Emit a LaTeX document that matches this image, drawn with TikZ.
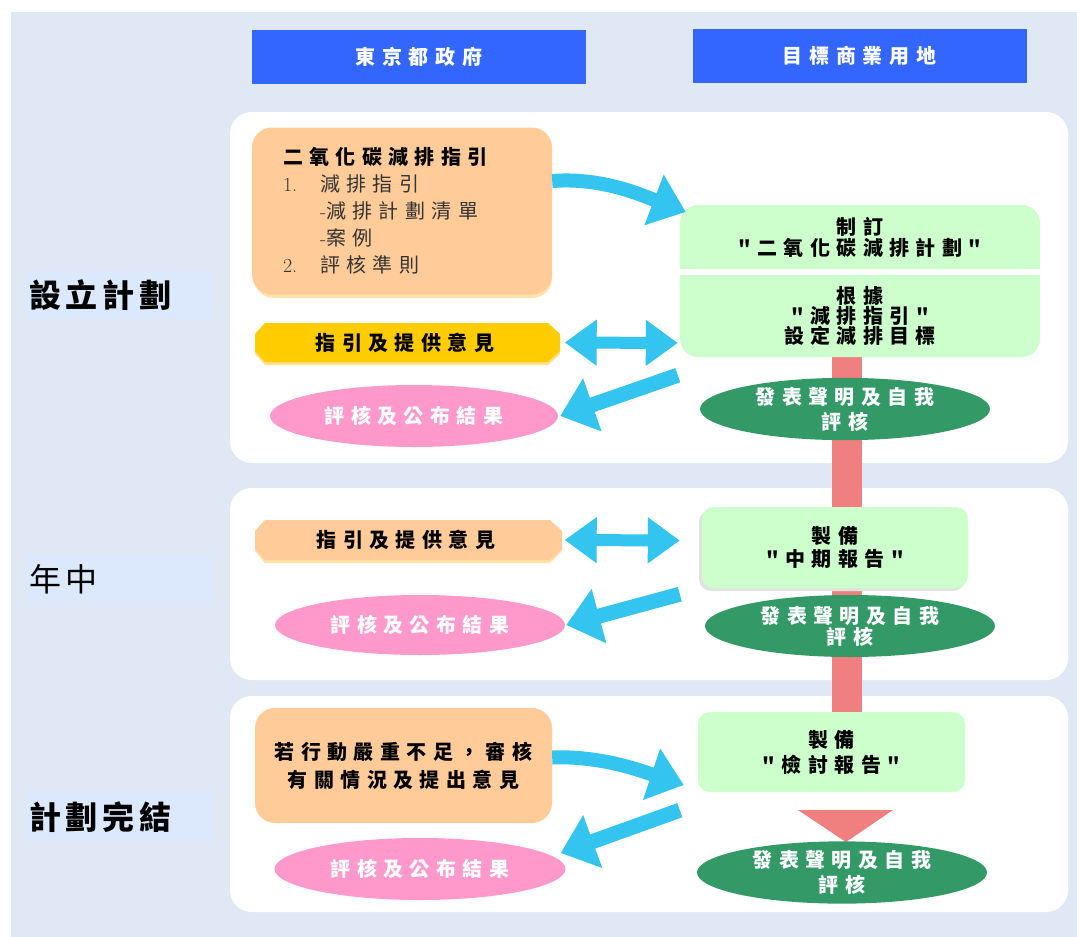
\documentclass[tikz,border=0pt]{standalone}
\usepackage{fontspec}
\newfontfamily\cjk[LetterSpace=32]{Noto Sans CJK TC}
\newfontfamily\cjkl[LetterSpace=15]{Noto Sans CJK TC}
\newfontfamily\cjkh[LetterSpace=34]{Noto Sans CJK TC}
\usetikzlibrary{arrows.meta,shapes.geometric}
\definecolor{bgc}{HTML}{E1E8F5}
\definecolor{lblc}{HTML}{DCE9FD}
\definecolor{hdrc}{HTML}{3366FF}
\definecolor{orc}{HTML}{FFCC99}
\definecolor{orsh}{HTML}{FFE2A6}
\definecolor{yelc}{HTML}{FFCC00}
\definecolor{yelsh}{HTML}{FFE08A}
\definecolor{grc}{HTML}{CCFFCC}
\definecolor{grsh}{HTML}{DCE6DC}
\definecolor{dgc}{HTML}{339966}
\definecolor{pkc}{HTML}{FF99CC}
\definecolor{skc}{HTML}{33C4F0}
\definecolor{rdc}{HTML}{F08080}
\definecolor{txg}{HTML}{333333}
\begin{document}
\begin{tikzpicture}[x=1pt,y=-1pt,
  hdr/.style={fill=hdrc, text=white, minimum width=334pt, minimum height=54pt, inner sep=0pt, font=\cjkh\bfseries\fontsize{20}{22}\selectfont},
  lbl/.style={fill=lblc, anchor=west, minimum height=48pt, text width=181pt, inner sep=2pt, align=left, text=black},
  body/.style={font=\cjk\bfseries\fontsize{20}{21}\selectfont, align=center, inner sep=0pt},
  obox/.style={fill=orc, rounded corners=20pt, inner sep=0pt},
  gtxt/.style={body, text=black},
  gbox/.style={fill=grc, rounded corners=12pt, body, text=black},
  dell/.style={ellipse, fill=dgc, text=white, body, minimum width=290pt, minimum height=62pt},
  pell/.style={ellipse, fill=pkc, text=white, body, minimum width=290pt, minimum height=61pt},
  arr/.style={skc, line width=15pt, -{Triangle[width=54pt,length=34pt]}},
  dbl/.style={skc, line width=12pt, {Triangle[width=44pt,length=32pt]}-{Triangle[width=44pt,length=32pt]}},
  redbar/.style={rdc, line width=30pt}
]
\useasboundingbox (0,0) rectangle (1077,937);
\fill[white] (0,0) rectangle (1077,937);
\fill[bgc] (11,12) rectangle (1077,937);
% panels
\fill[white, rounded corners=22pt] (230,112) rectangle (1068,463);
\fill[white, rounded corners=22pt] (230,488) rectangle (1068,680);
\fill[white, rounded corners=22pt] (230,696) rectangle (1068,912);
% headers
\node[hdr] (hdr1) at (419,57) {東京都政府};
\node[hdr] (hdr2) at (859.5,55.5) {目標商業用地};
% stage labels
\node[lbl, font=\cjkl\bfseries\fontsize{32}{34}\selectfont] (lb1) at (27,295) {設立計劃};
\node[lbl, font=\cjkl\fontsize{32}{34}\selectfont] (lb2) at (27,579) {年中};
\node[lbl, font=\cjkl\bfseries\fontsize{32}{34}\selectfont] (lb3) at (27,817) {計劃完結};
% red progress bar
\coordinate (rtop) at (847,357);
\coordinate (rbot) at (847,712);
\draw[redbar] (rtop) -- (rbot);
\fill[rdc] (798,810) -- (893,810) -- (846,842) -- cycle;
% ---- panel 1 ----
\fill[orsh, rounded corners=20pt] (254,132) rectangle (552,298);
\node[obox, minimum width=300pt, minimum height=167pt, text width=238pt, align=left, text=txg,
  font=\fontsize{20}{27}\selectfont] (o1) at (402,211)
 {{\color{black}\cjk\bfseries 二氧化碳減排指引}\\
  \makebox[37pt][l]{1.}{\cjk 減排指引}\\
  \hspace*{37pt}-{\cjk 減排計劃清單}\\
  \hspace*{37pt}-{\cjk 案例}\\
  \makebox[37pt][l]{2.}{\cjk 評核準則}};
\fill[yelsh] (265,326) -- (548,326) -- (560,337) -- (560,354) -- (548,365) -- (265,365) -- (255,354) -- (255,337) -- cycle;
\fill[yelc] (265,323) -- (548,323) -- (560,334) -- (560,351) -- (548,362) -- (265,362) -- (255,351) -- (255,334) -- cycle;
\node[gtxt, minimum width=305pt, minimum height=39pt] (y1) at (405,342.5) {指引及提供意見};
\node[pell, minimum width=288pt, minimum height=62pt] (p1) at (414,416) {評核及公布結果};
\fill[grc, rounded corners=18pt] (680,205) rectangle (1040,269);
\fill[grc] (680,240) rectangle (1040,269);
\fill[grc, rounded corners=18pt] (680,275) rectangle (1040,357);
\fill[grc] (680,275) rectangle (1040,300);
\node[gtxt, minimum width=360pt, minimum height=64pt] (g1a) at (860,237) {制訂\\"二氧化碳減排計劃"};
\node[gtxt, minimum width=360pt, minimum height=82pt, font=\cjk\bfseries\fontsize{20}{20}\selectfont] (g1b) at (860,316) {根據\\"減排指引"\\設定減排目標};
\node[dell, font=\cjk\bfseries\fontsize{20}{25}\selectfont] (e1) at (845,409) {發表聲明及自我\\評核};
\draw[arr, line width=14pt, -{Triangle[width=52pt,length=34pt]}] ([yshift=30pt]o1.east) .. controls +(50pt,4pt) and +(-42pt,16pt) .. ([shift={(6pt,25pt)}]g1a.west);
\draw[dbl] ([xshift=7pt]y1.east) -- ([shift={(-2pt,-27pt)}]g1b.west);
\draw[arr] ([shift={(-2pt,-18pt)}]g1b.south west) -- ([xshift=2pt]p1.east);
% ---- panel 2 ----
\fill[orsh] (265,523) -- (550,523) -- (562,534) -- (562,551) -- (550,563) -- (265,563) -- (255,551) -- (255,534) -- cycle;
\fill[orc] (265,520) -- (550,520) -- (562,531) -- (562,549) -- (550,560) -- (265,560) -- (255,549) -- (255,531) -- cycle;
\node[gtxt, minimum width=307pt, minimum height=40pt] (y2) at (406,540) {指引及提供意見};
\node[pell, minimum height=60pt] (p2) at (420,625) {評核及公布結果};
\fill[grsh, rounded corners=12pt] (699,510) rectangle (965,591);
\node[gbox, minimum width=266pt, minimum height=81pt, font=\cjk\bfseries\fontsize{20}{23}\selectfont] (g2) at (835,547.5) {製備\\"中期報告"};
\node[dell] (e2) at (850,626) {發表聲明及自我\\評核};
\draw[dbl] ([xshift=5pt]y2.east) -- ([shift={(-22pt,7pt)}]g2.west);
\draw[arr] ([shift={(-22pt,-6pt)}]g2.south west) -- ([xshift=1pt]p2.east);
% ---- panel 3 ----
\node[obox, minimum width=297pt, minimum height=115pt, body, text=black, font=\cjk\bfseries\fontsize{20}{28}\selectfont] (o3) at (403.5,765.5) {若行動嚴重不足，審核\\有關情況及提出意見};
\node[pell, minimum width=291pt, minimum height=62pt] (p3) at (420,869) {評核及公布結果};
\node[gbox, minimum width=267pt, minimum height=80pt, font=\cjk\bfseries\fontsize{20}{25}\selectfont] (g3) at (831.5,752) {製備\\"檢討報告"};
\node[dell, minimum height=61pt, font=\cjk\bfseries\fontsize{20}{25}\selectfont] (e3) at (842,872.5) {發表聲明及自我\\評核};
\draw[arr, line width=14pt, -{Triangle[width=52pt,length=34pt]}] ([yshift=8pt]o3.east) .. controls +(48pt,2pt) and +(-42pt,14pt) .. ([shift={(-14pt,-33pt)}]g3.west);
\draw[arr] ([shift={(-18pt,-18pt)}]g3.south west) -- ([shift={(-5pt,16pt)}]p3.east);
\end{tikzpicture}
\end{document}
